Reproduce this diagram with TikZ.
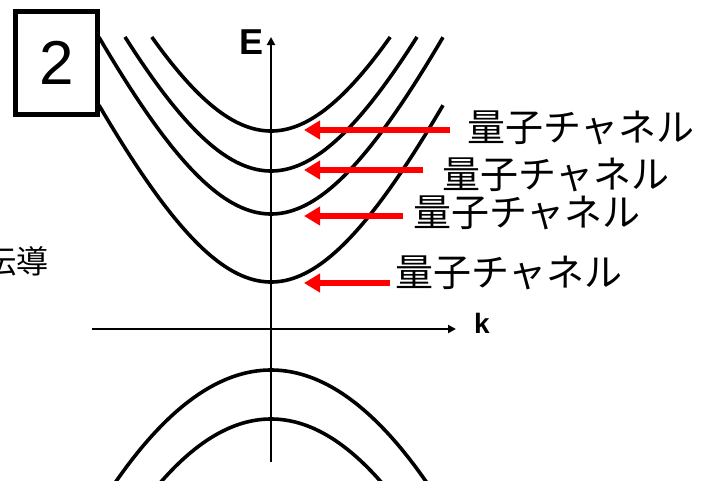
\documentclass[tikz,border=0pt]{standalone}
\usepackage{fontspec}
\setmainfont{Liberation Sans}
\newfontfamily\jpfont{Noto Sans CJK JP}
\usetikzlibrary{arrows.meta}
\begin{document}
\begin{tikzpicture}[x=1pt,y=-1pt,
  band/.style={line width=3.6pt},
  axisline/.style={line width=2.4pt,-{Triangle[length=8pt,width=8pt]}},
  chanarrow/.style={red,line width=6pt,-{Triangle[length=16pt,width=18pt]}},
  chanlabel/.style={font=\jpfont\fontsize{38}{38}\selectfont,anchor=west,inner sep=0pt},
]
\useasboundingbox (0,0) rectangle (702,480);
% conduction sub-bands
\foreach \v/\w in {131/119.2,171/146,214/172,282/172}{
  \draw[band] plot[domain=-\w:\w,samples=90,smooth] ({271+\x},{\v-339*(sqrt(1+(\x/150)^2)-1)});
}
% valence bands
\draw[band] plot[domain=-160:160,samples=80,smooth] ({271+\x},{370+0.464*(\x/10)^2});
\draw[band] plot[domain=-114:114,samples=80,smooth] ({271+\x},{419+0.52*(\x/10)^2});
% axes
\coordinate (kstart) at (92,329);
\coordinate (kend) at (456,329);
\coordinate (Estart) at (271,462);
\coordinate (Eend) at (271,37);
\draw[axisline] (kstart) -- (kend);
\draw[axisline] (Estart) -- (Eend);
\node[font=\bfseries\fontsize{36}{36}\selectfont,inner sep=0pt] (E) at (252,42) {E};
\node[font=\bfseries\fontsize{28}{28}\selectfont,inner sep=0pt] (k) at (482,323) {k};
% number box
\node[draw,line width=5pt,fill=white,minimum width=82pt,minimum height=103pt,inner sep=0pt,
      font=\fontsize{62}{62}\selectfont] (num) at (56.5,63) {2};
% cut-off text on the left
\node[font=\jpfont\fontsize{32}{32}\selectfont,anchor=east,inner sep=0pt] (den) at (49,261) {伝導};
% channel labels
\node[chanlabel] (c1) at (467,128) {量子チャネル};
\node[chanlabel] (c2) at (442,175) {量子チャネル};
\node[chanlabel] (c3) at (413,213) {量子チャネル};
\node[chanlabel] (c4) at (395,273) {量子チャネル};
\coordinate (a1s) at (450,130); \coordinate (a1t) at (304,130);
\coordinate (a2s) at (423,170); \coordinate (a2t) at (304,170);
\coordinate (a3s) at (403,216); \coordinate (a3t) at (304,216);
\coordinate (a4s) at (390,283); \coordinate (a4t) at (304,283);
\draw[chanarrow] (a1s) -- (a1t);
\draw[chanarrow] (a2s) -- (a2t);
\draw[chanarrow] (a3s) -- (a3t);
\draw[chanarrow] (a4s) -- (a4t);
\end{tikzpicture}
\end{document}
